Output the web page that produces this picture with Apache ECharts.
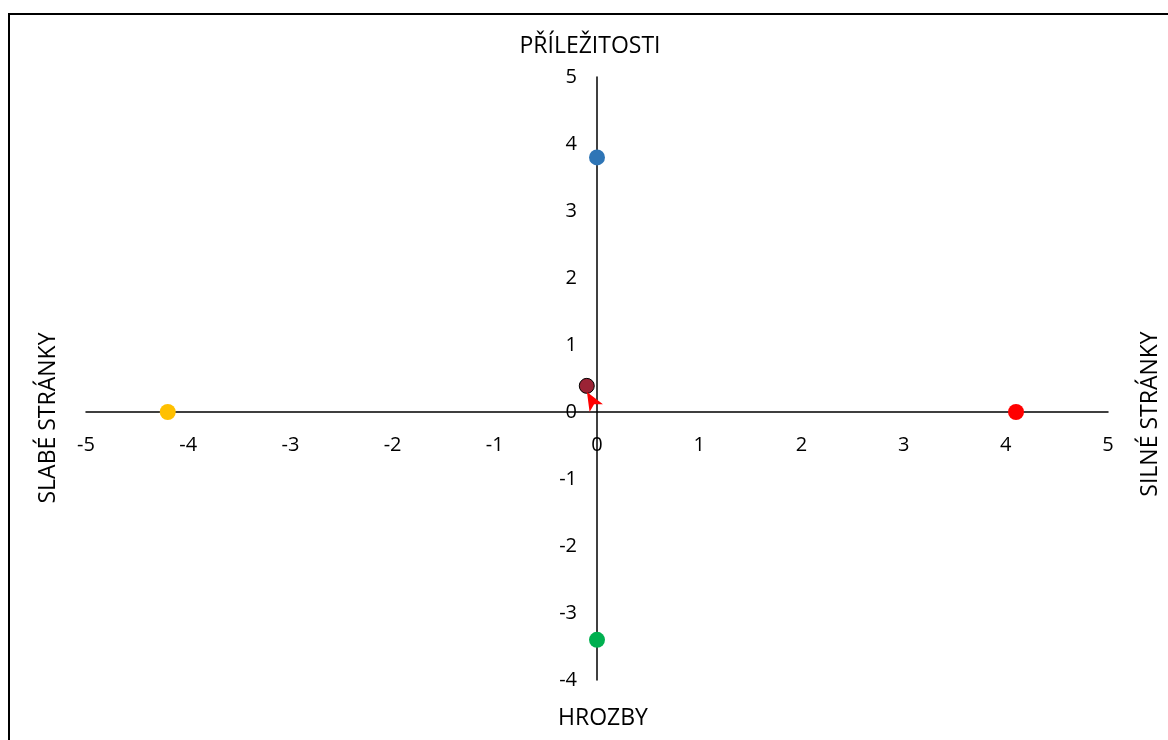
<!DOCTYPE html>
<html>
<head>
<meta charset="utf-8">
<script src="https://cdn.jsdelivr.net/npm/echarts@6/dist/echarts.min.js"></script>
<style>
  html, body { margin: 0; padding: 0; background: #fff; }
  #chart { width: 1168px; height: 740px; }
</style>
</head>
<body>
<div id="chart"></div>
<script>
// axis titles
const topTitle = 'PŘÍLEŽITOSTI'
const bottomTitle = 'HROZBY'
const leftTitle = 'SLABÉ STRÁNKY'
const rightTitle = 'SILNÉ STRÁNKY'

// points [x, y]
const opportunities = [[0, 3.8]]
const threats = [[0, -3.4]]
const weaknesses = [[-4.2, 0]]
const strengths = [[4.1, 0]]
const result = [[-0.1, 0.39]]
const direction = [[-0.02, 0.15]]

const xMin = -5
const xMax = 5
const yMin = -4
const yMax = 5

const fontFamily = 'Open Sans, Noto Sans, sans-serif'
const chart = echarts.init(document.getElementById('chart'))

function dot (name, data, color) {
  return {
    name: name,
    type: 'scatter',
    symbol: 'circle',
    symbolSize: 16,
    itemStyle: { color: color, opacity: 1 },
    data: data
  }
}

// grid is 1022 x 603, axes crossed at the zero point
const gridW = 1168 - 86 - 60
const gridH = 740 - 77 - 60
const xOffset = -gridH * (0 - yMin) / (yMax - yMin)
const yOffset = -gridW * (0 - xMin) / (xMax - xMin)

const options = {
  animation: false,
  grid: { left: 86, right: 60, top: 77, bottom: 60 },
  xAxis: {
    type: 'value',
    min: xMin,
    max: xMax,
    interval: 1,
    position: 'bottom',
    offset: xOffset,
    axisLine: { onZero: false, lineStyle: { color: '#000', width: 1.5 } },
    axisTick: { show: false },
    splitLine: { show: false },
    axisLabel: { color: '#000', fontSize: 20, fontFamily: fontFamily, margin: 23 }
  },
  yAxis: {
    type: 'value',
    min: yMin,
    max: yMax,
    interval: 1,
    position: 'left',
    offset: yOffset,
    axisLine: { onZero: false, lineStyle: { color: '#000', width: 1.5 } },
    axisTick: { show: false },
    splitLine: { show: false },
    axisLabel: { color: '#000', fontSize: 20, fontFamily: fontFamily, margin: 20 }
  },
  graphic: [
    {
      type: 'rect',
      shape: { x: 9, y: 14, width: 1300, height: 900 },
      style: { fill: 'none', stroke: '#000', lineWidth: 2 }
    },
    {
      type: 'text', x: 590, y: 46,
      style: { text: topTitle, fill: '#000', fontSize: 23, fontFamily: fontFamily, align: 'center', verticalAlign: 'middle' }
    },
    {
      type: 'text', x: 603, y: 718,
      style: { text: bottomTitle, fill: '#000', fontSize: 23, fontFamily: fontFamily, align: 'center', verticalAlign: 'middle' }
    },
    {
      type: 'text', x: 48, y: 418, rotation: Math.PI / 2,
      style: { text: leftTitle, fill: '#000', fontSize: 23, fontFamily: fontFamily, align: 'center', verticalAlign: 'middle' }
    },
    {
      type: 'text', x: 1150, y: 414, rotation: Math.PI / 2,
      style: { text: rightTitle, fill: '#000', fontSize: 23, fontFamily: fontFamily, align: 'center', verticalAlign: 'middle' }
    }
  ],
  series: [
    dot('Příležitosti', opportunities, '#2E75B6'),
    dot('Hrozby', threats, '#00B050'),
    dot('Slabé stránky', weaknesses, '#FFC000'),
    dot('Silné stránky', strengths, '#FF0000'),
    {
      name: 'Výsledek',
      type: 'scatter',
      symbol: 'circle',
      symbolSize: 15,
      itemStyle: { color: '#9B2335', borderColor: '#000', borderWidth: 1, opacity: 1 },
      data: result
    },
    {
      name: 'Směr',
      type: 'scatter',
      symbol: 'path://M0,0 L14.6,11.2 L6.5,11.3 L2.4,18.2 Z',
      symbolSize: [16, 20],
      itemStyle: { color: '#FF0000', opacity: 1 },
      data: direction
    }
  ]
}
chart.setOption(options)
</script>
</body>
</html>
